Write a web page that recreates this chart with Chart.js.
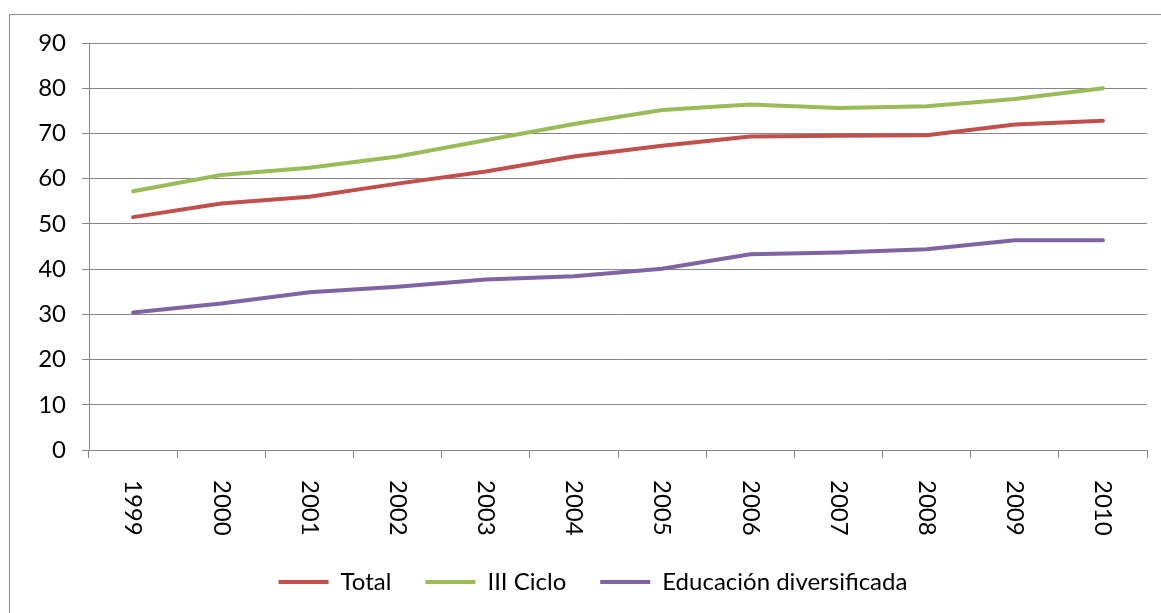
<!DOCTYPE html>
<html>
<head>
<meta charset="utf-8">
<script src="https://cdn.jsdelivr.net/npm/chart.js"></script>
<style>
	html, body { margin: 0; padding: 0; background: #fff; }
	#wrap { width: 1161px; height: 613px; }
</style>
</head>
<body>
<div id="wrap"><canvas id="chart" width="1161" height="613"></canvas></div>
<script>
const years = ['1999', '2000', '2001', '2002', '2003', '2004', '2005', '2006', '2007', '2008', '2009', '2010'];
const total = [51.5, 54.5, 56.0, 58.9, 61.6, 64.9, 67.3, 69.3, 69.5, 69.6, 72.0, 72.8];
const tercerCiclo = [57.2, 60.8, 62.4, 64.9, 68.5, 72.1, 75.2, 76.4, 75.6, 76.0, 77.6, 80.0];
const diversificada = [30.4, 32.4, 34.9, 36.1, 37.7, 38.4, 40.1, 43.3, 43.7, 44.4, 46.4, 46.4];
const seriesNames = ['Total', 'III Ciclo', 'Educación diversificada'];
const yMin = 0, yMax = 90, yStep = 10;

const axisGray = '#868686';
const fontName = 'Lato';

// marco gris alrededor del gráfico (solo izquierda y arriba visibles)
const framePlugin = {
	id: 'frame',
	beforeDraw(chart) {
		const ctx = chart.ctx;
		ctx.save();
		ctx.strokeStyle = '#8c8c8c';
		ctx.lineWidth = 1;
		ctx.beginPath();
		ctx.moveTo(9.5, chart.height);
		ctx.lineTo(9.5, 14.5);
		ctx.lineTo(chart.width, 14.5);
		ctx.stroke();
		ctx.restore();
	}
};

// etiquetas del eje x giradas 90 grados en sentido horario
const yearLabels = {
	id: 'yearLabels',
	afterDraw(chart) {
		const ctx = chart.ctx;
		const xs = chart.scales.x;
		ctx.save();
		ctx.fillStyle = '#000';
		ctx.font = '24px ' + fontName;
		ctx.textAlign = 'left';
		ctx.textBaseline = 'middle';
		years.forEach((label, i) => {
			ctx.save();
			ctx.translate(xs.getPixelForValue(i), xs.top + 30);
			ctx.rotate(Math.PI / 2);
			ctx.fillText(label, 0, 0);
			ctx.restore();
		});
		ctx.restore();
	}
};

function lineSet(label, data, color) {
	return {
		label: label,
		data: data,
		borderColor: color,
		backgroundColor: color,
		borderWidth: 4,
		borderCapStyle: 'round',
		borderJoinStyle: 'round',
		pointRadius: 0,
		tension: 0,
		fill: false
	};
}

new Chart(document.getElementById('chart'), {
	type: 'line',
	data: {
		labels: years,
		datasets: [
			lineSet(seriesNames[0], total, '#C0504D'),
			lineSet(seriesNames[1], tercerCiclo, '#9BBB59'),
			lineSet(seriesNames[2], diversificada, '#8064A2')
		]
	},
	options: {
		responsive: false,
		animation: false,
		layout: {
			padding: { top: 43, right: 14, left: 39, bottom: 9 }
		},
		scales: {
			x: {
				offset: true,
				grid: {
					offset: true,
					drawOnChartArea: false,
					drawTicks: true,
					tickLength: 8,
					color: axisGray
				},
				border: { color: axisGray, width: 1 },
				ticks: { display: false },
				afterFit(scale) { scale.height = 86; }
			},
			y: {
				min: yMin,
				max: yMax,
				grid: {
					color: axisGray,
					tickLength: 7
				},
				border: { color: axisGray, width: 1 },
				ticks: {
					stepSize: yStep,
					padding: 16,
					color: '#000',
					font: { family: fontName, size: 24 }
				},
				afterFit(scale) { scale.width = 50; }
			}
		},
		plugins: {
			legend: {
				position: 'bottom',
				maxHeight: 69,
				labels: {
					usePointStyle: true,
					pointStyle: 'line',
					pointStyleWidth: 50,
					padding: 34,
					color: '#000',
					font: { family: fontName, size: 24 }
				}
			},
			tooltip: { enabled: false }
		}
	},
	plugins: [framePlugin, yearLabels]
});
</script>
</body>
</html>
